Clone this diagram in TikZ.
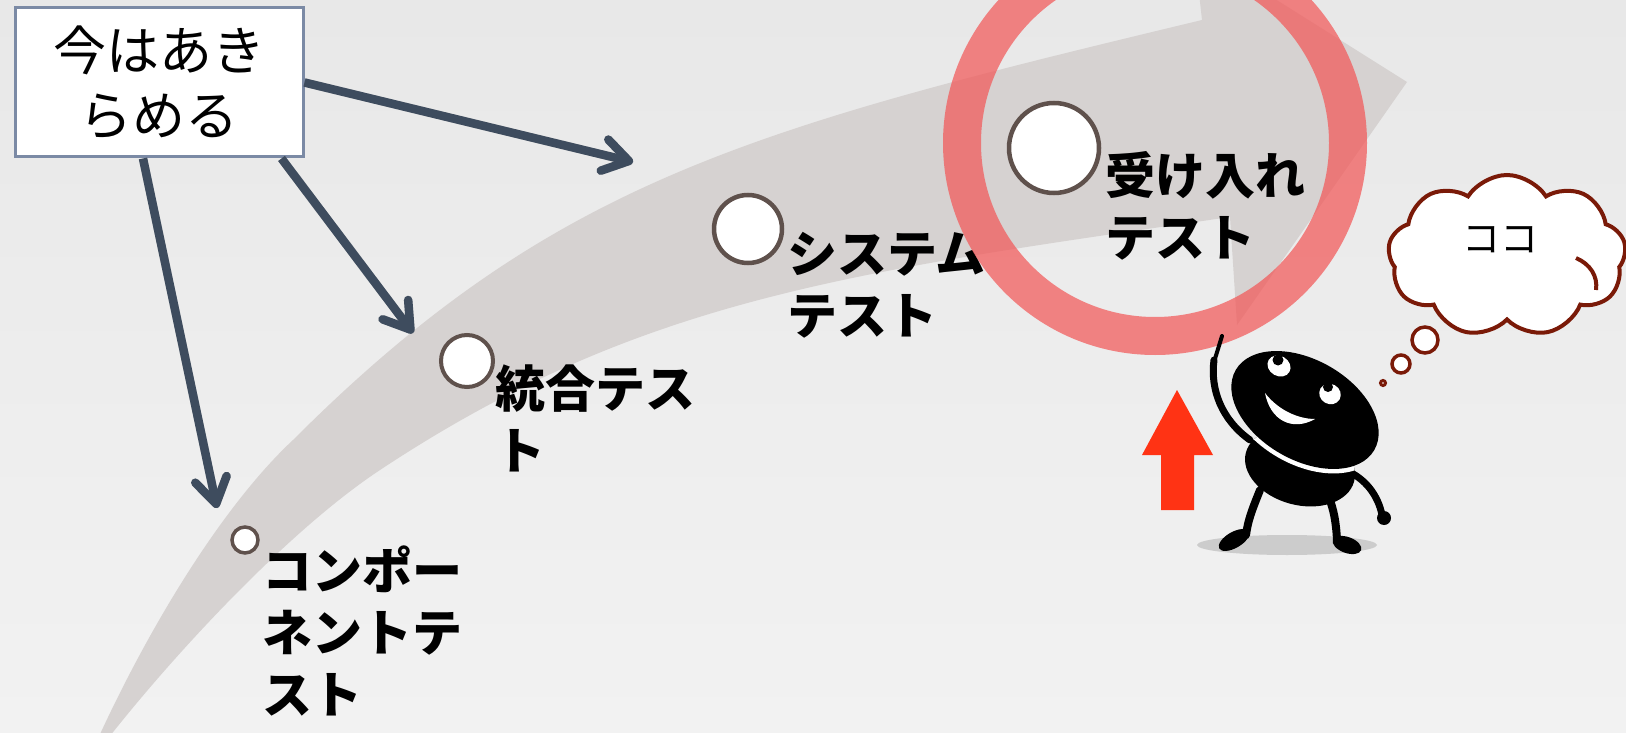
\documentclass[tikz,border=0pt]{standalone}
\usepackage{fontspec}
\newfontfamily\jp{Noto Sans CJK JP}
\usetikzlibrary{arrows.meta,shapes.symbols}
\definecolor{bgtop}{HTML}{E8E8E8}
\definecolor{bgbot}{HTML}{F2F2F2}
\definecolor{bandgray}{HTML}{D6D2D1}
\definecolor{dotrim}{HTML}{5F514C}
\definecolor{slate}{HTML}{3E4C5E}
\definecolor{boxrim}{HTML}{7B8AA5}
\definecolor{ringred}{HTML}{F25858}
\definecolor{uparrow}{HTML}{FF3314}
\definecolor{cloudrim}{HTML}{7A1A08}
\definecolor{floorshade}{HTML}{CCCCCC}
\begin{document}
\begin{tikzpicture}[x=1pt,y=-1pt,
  stage/.style={circle, draw=dotrim, fill=white, inner sep=0},
  lbl/.style={anchor=north west, inner sep=0, align=left,
    font=\jp\bfseries\fontsize{50}{62}\selectfont},
  pointer/.style={draw=slate, line width=8.5pt,
    -{Straight Barb[length=25pt,width=32pt,round]}},
  pointershadow/.style={draw=black, opacity=0.15, line width=8.5pt,
    -{Straight Barb[length=25pt,width=32pt,round]}, shift={(3,5)}},
  bubble/.style={circle, draw=cloudrim, line width=3.5pt, fill=white, inner sep=0}]
\useasboundingbox (0,0) rectangle (1626,733);
\clip (0,0) rectangle (1626,733);
\shade[top color=bgtop, bottom color=bgbot] (0,0) rectangle (1626,733);

% the sweeping progress arrow: upper edge, head, lower edge
\fill[bandgray] (84,770) .. controls (140,640) and (220,508) .. (293,440)
  .. controls (553,180) and (752,128) .. (1202,20)
  -- (1194,-52) -- (1407,82) -- (1237,325) -- (1230,217)
  .. controls (850,272) and (640,298) .. (380,470)
  .. controls (280,536) and (150,680) .. (84,770) -- cycle;

% stages along the arrow
\node[stage, line width=3.5pt, minimum size=26pt] (c1) at (245,540) {};
\node[stage, line width=4pt, minimum size=52pt] (c2) at (467,361) {};
\node[stage, line width=4.5pt, minimum size=68pt] (c3) at (748,229) {};
\node[stage, line width=4.5pt, minimum size=90pt] (c4) at (1054,148) {};

\node[lbl] (l1) at (262,546) {コンポー\\ネントテ\\スト};
\node[lbl] (l2) at (495,365) {統合テス\\ト};
\node[lbl] (l3) at (787,232) {システム\\テスト};
\node[lbl] (l4) at (1105,151) {受け入れ\\テスト};

% highlight ring
\draw[ringred, opacity=0.72, line width=38pt] (1155,143) circle[radius=193];

% note box and its pointers
\node[draw=boxrim, line width=3pt, fill=white, minimum width=288pt, minimum height=149pt,
  align=center, font=\jp\fontsize{53}{65}\selectfont] (box) at (159,82.5) {今はあき\\らめる};
\coordinate (t1) at (633,162);
\coordinate (t2) at (413,333);
\coordinate (t3) at (217,508);
\draw[pointershadow] (box.east) -- (t1);
\draw[pointershadow] ([xshift=-23pt]box.south east) -- (t2);
\draw[pointershadow] ([xshift=-16pt]box.south) -- (t3);
\draw[pointer] (box.east) -- (t1);
\draw[pointer] ([xshift=-23pt]box.south east) -- (t2);
\draw[pointer] ([xshift=-16pt]box.south) -- (t3);

% red up arrow
\fill[uparrow] (1177,390) -- (1213,455) -- (1194,455) -- (1194,510) -- (1161,510) -- (1161,455) -- (1142,455) -- cycle;

% little figure
\fill[floorshade] (1287,545) ellipse[x radius=90, y radius=10];
\draw[line width=8pt, line cap=round] (1260,490) .. controls (1252,510) and (1248,520) .. (1246,535);
\draw[line width=8pt, line cap=round] (1328,495) .. controls (1334,510) and (1336,522) .. (1337,540);
\fill[rotate around={30:(1234,540)}] (1234,540) ellipse[x radius=17, y radius=8];
\fill[rotate around={-20:(1347,545)}] (1347,545) ellipse[x radius=15, y radius=8];
\draw[line width=7pt, line cap=round] (1345,470) .. controls (1365,478) and (1378,495) .. (1382,515);
\fill (1384,518) circle[radius=7];
\draw[line width=7pt, line cap=round] (1250,440) .. controls (1222,420) and (1210,390) .. (1214,360);
\draw[line width=4pt, line cap=round] (1214,362) -- (1222,336);
\fill[rotate around={-15:(1300,467)}] (1300,467) ellipse[x radius=56, y radius=38];
\begin{scope}
  \clip[rotate around={-15:(1300,467)}] (1300,467) ellipse[x radius=56, y radius=38];
  \draw[white, line width=9pt, rotate around={-30:(1305,410)}] (1305,410) ellipse[x radius=80, y radius=50];
\end{scope}
\fill[rotate around={-30:(1305,410)}] (1305,410) ellipse[x radius=80, y radius=50];
\fill[white, rotate around={-30:(1279,366)}] (1279,366) ellipse[x radius=12, y radius=10];
\fill (1278,360) circle[radius=5.5];
\fill[white, rotate around={-30:(1330,394)}] (1330,394) ellipse[x radius=11, y radius=10];
\fill (1328,387) circle[radius=5];
\fill[white] (1265,393) .. controls (1270,420) and (1292,432) .. (1315,419) .. controls (1298,419) and (1278,410) .. cycle;

% thought cloud
\node[bubble, minimum size=5pt, line width=3pt] (b1) at (1383,383) {};
\node[bubble, minimum size=18pt] (b2) at (1401,364) {};
\node[bubble, minimum size=26pt] (b3) at (1425,340) {};
\node[cloud, cloud puffs=9, cloud puff arc=115, aspect=1.5, draw=cloudrim, line width=4pt,
  fill=white, minimum width=238pt, minimum height=162pt] (cloud) at (1507,256) {};
\draw[cloudrim, line width=4pt] (1576,258) .. controls (1590,264) and (1598,276) .. (1596,290);
\node[font=\jp\fontsize{38}{40}\selectfont, inner sep=0] (coco) at (1500,240) {ココ};
\end{tikzpicture}
\end{document}
